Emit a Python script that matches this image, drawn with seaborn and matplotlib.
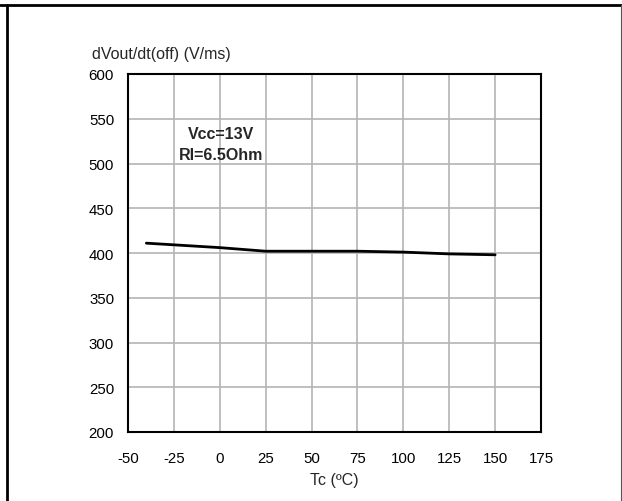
import matplotlib
matplotlib.use("Agg")
import matplotlib.pyplot as plt
import seaborn as sns
import pandas as pd
from matplotlib.lines import Line2D

# Data
tc = [-40, 0, 25, 50, 75, 100, 125, 150]
dvdt = [411, 406, 402, 402, 402, 401, 399, 398]
xticks = [-50, -25, 0, 25, 50, 75, 100, 125, 150, 175]
yticks = [200, 250, 300, 350, 400, 450, 500, 550, 600]

sns.set_theme(style="white")
plt.rcParams['font.family'] = ['Liberation Sans', 'DejaVu Sans']

df = pd.DataFrame({"Tc": tc, "dv": dvdt})

fig = plt.figure(figsize=(6.22, 5.02), dpi=100)
ax = fig.add_axes([128/622, 1-433/502, (541-128)/622, (433-75)/502])

ax.grid(True, color="#b4b4b4", linewidth=1.2)
ax.set_axisbelow(True)
sns.lineplot(data=df, x="Tc", y="dv", ax=ax, color="black", linewidth=2)

ax.set_xlim(-50, 175)
ax.set_ylim(200, 600)
ax.set_xticks(xticks)
ax.set_yticks(yticks)
ax.set_xticklabels([str(v) for v in xticks])
ax.set_yticklabels([str(v) for v in yticks])
ax.tick_params(axis="both", length=0, labelsize=10.8, colors="black")
ax.tick_params(axis="y", pad=10)
ax.tick_params(axis="x", pad=14)
ax.set_xlabel("")
ax.set_ylabel("")
for s in ax.spines.values():
    s.set_color("black")
    s.set_linewidth(1.5)
    s.set_visible(True)

ax.text((221-128)/413, 1-(145-75)/358, "Vcc=13V\nRl=6.5Ohm", transform=ax.transAxes, ha="center",
        va="center", fontsize=11.5, fontweight="bold", linespacing=1.5)

fig.text(92/622, 1-54/502, "dVout/dt(off) (V/ms)", ha="left", va="center", fontsize=11.5)
fig.text(334/622, 1-481/502, "Tc (ºC)", ha="center", va="center", fontsize=11.5)

# frame
fig.add_artist(Line2D([0, 1], [1-5.5/502, 1-5.5/502], transform=fig.transFigure, color="black", linewidth=2))
fig.add_artist(Line2D([7.5/622, 7.5/622], [0, 1-5.5/502], transform=fig.transFigure, color="black", linewidth=2))
fig.add_artist(Line2D([620.5/622, 620.5/622], [0, 1-5.5/502], transform=fig.transFigure, color="#555555", linewidth=0.8))

fig.savefig("out.png", dpi=100)
